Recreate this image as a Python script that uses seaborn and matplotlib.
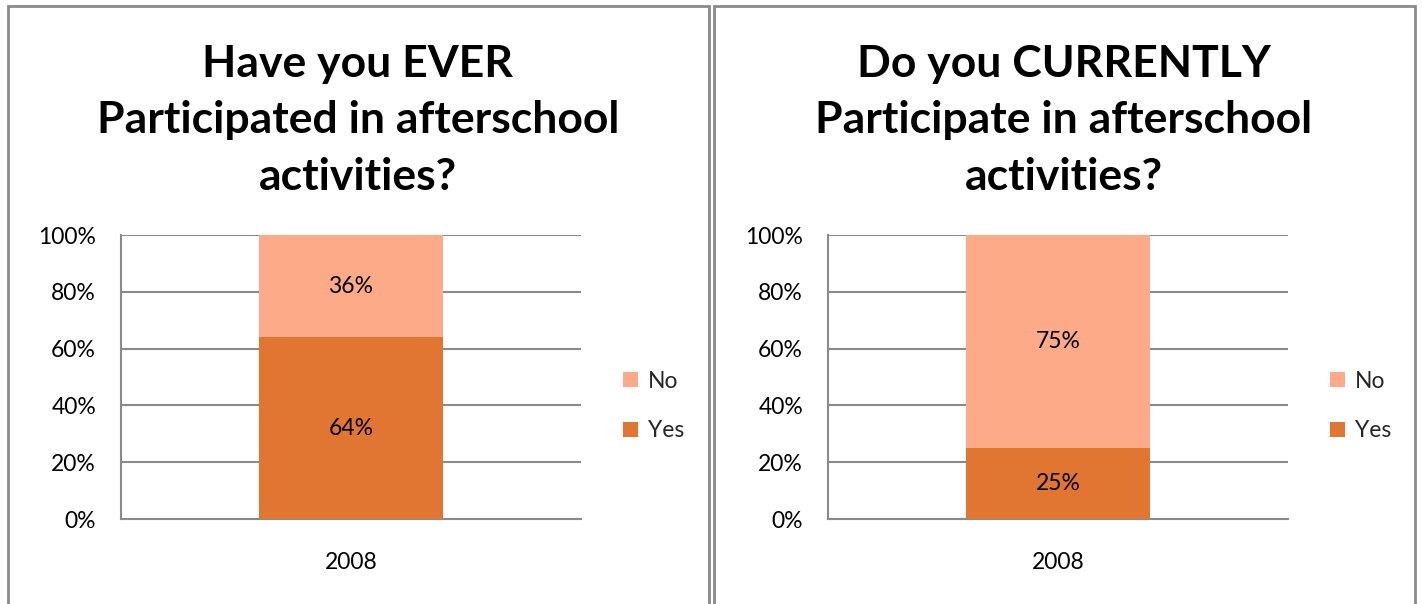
import matplotlib
matplotlib.use("Agg")
import matplotlib.pyplot as plt
import seaborn as sns
import pandas as pd
from matplotlib.patches import Rectangle, Patch

sns.set_theme(style="white")
plt.rcParams['font.family'] = ['Lato', 'DejaVu Sans']

# ---- data ----
categories = ["2008"]
titles = ["Have you EVER\nParticipated in afterschool\nactivities?",
          "Do you CURRENTLY\nParticipate in afterschool\nactivities?"]
yes_values = [64, 25]
no_values = [36, 75]
series_names = ["No", "Yes"]
yticks = [0, 20, 40, 60, 80, 100]

COL_YES = "#E07632"
COL_NO = "#FDAA88"
GRID = "#8A8A8A"

W, H = 1422, 604
fig = plt.figure(figsize=(W / 100, H / 100), dpi=100)

def fx(px):
    return px / W

def fy(py):
    return 1 - py / H

# panel borders
for (x0, x1) in [(8, 709), (714, 1415)]:
    r = Rectangle((fx(x0), -0.05), fx(x1 - x0), fy(6) + 0.05,
                  transform=fig.transFigure, fill=False, edgecolor=GRID, lw=2.0)
    fig.add_artist(r)

axes_px = [(121, 581), (828, 1288)]
legend_px = [612, 1319]
title_cx = [358, 1064]
FS = 16.5

for i in range(2):
    x0, x1 = axes_px[i]
    ax = fig.add_axes([fx(x0), fy(519), fx(x1 - x0), (519 - 235) / H])
    total = [yes_values[i] + no_values[i]]
    df_tot = pd.DataFrame({"year": categories, "value": total})
    df_yes = pd.DataFrame({"year": categories, "value": [yes_values[i]]})
    sns.barplot(data=df_tot, x="year", y="value", color=COL_NO, width=0.4,
                saturation=1, ax=ax, linewidth=0, zorder=3)
    sns.barplot(data=df_yes, x="year", y="value", color=COL_YES, width=0.4,
                saturation=1, ax=ax, linewidth=0, zorder=3)
    ax.set_xlim(-0.5, 0.5)
    ax.set_ylim(0, 100)
    ax.set_yticks(yticks)
    ax.set_yticklabels([f"{v}%" for v in yticks], fontsize=FS, color="black")
    ax.set_xticks([0])
    ax.set_xticklabels(categories, fontsize=FS, color="black")
    ax.set_xticks([-0.5, 0.5], minor=True)
    ax.tick_params(axis="x", which="major", length=0, pad=24)
    ax.tick_params(axis="x", which="minor", length=6, width=1.5, color=GRID, direction="out")
    ax.tick_params(axis="y", which="major", length=6, width=1.5, color=GRID, direction="out", pad=12)
    ax.set_xlabel("")
    ax.set_ylabel("")
    ax.grid(axis="y", color=GRID, lw=1.5, zorder=0)
    for s in ["top", "right"]:
        ax.spines[s].set_visible(False)
    for s in ["left", "bottom"]:
        ax.spines[s].set_color(GRID)
        ax.spines[s].set_linewidth(1.5)
    ax.set_facecolor("none")
    # data labels
    ax.text(0, yes_values[i] / 2, f"{yes_values[i]}%", ha="center", va="center",
            fontsize=FS, color="black", zorder=5)
    ax.text(0, yes_values[i] + no_values[i] / 2, f"{no_values[i]}%", ha="center",
            va="center", fontsize=FS, color="black", zorder=5)
    # title
    fig.text(fx(title_cx[i]), fy(120), titles[i], ha="center", va="center",
             fontsize=32, fontweight="bold", color="black", linespacing=1.5)
    # legend
    handles = [Patch(facecolor=COL_NO, edgecolor="none"),
               Patch(facecolor=COL_YES, edgecolor="none")]
    fig.legend(handles, series_names, loc="center left",
               bbox_to_anchor=(fx(legend_px[i]), fy(406)), frameon=False,
               fontsize=FS, handlelength=0.65, handleheight=0.65,
               handletextpad=0.4, labelspacing=1.25, borderpad=0)

fig.savefig("out.png", dpi=100, facecolor="white")
